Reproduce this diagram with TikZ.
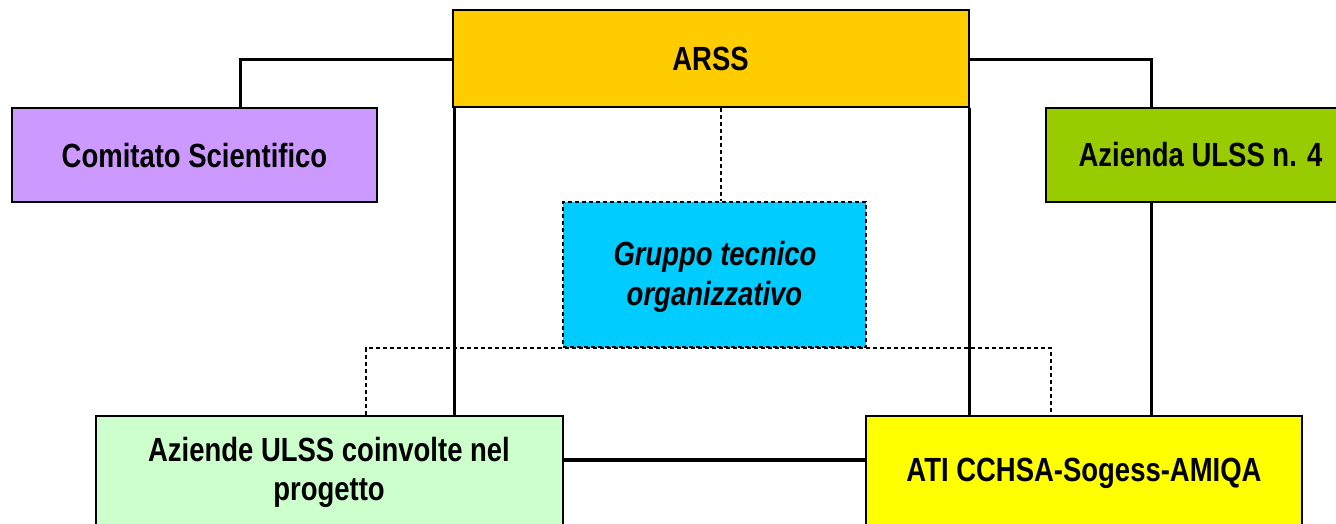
\documentclass[tikz,border=0pt]{standalone}
\usepackage{fontspec}
\setmainfont{Liberation Sans}[FakeStretch=0.82]
\definecolor{arssc}{HTML}{FFCC00}
\definecolor{comc}{HTML}{CC99FF}
\definecolor{azic}{HTML}{99CC00}
\definecolor{grpc}{HTML}{00CCFF}
\definecolor{azsc}{HTML}{CCFFCC}
\definecolor{atic}{HTML}{FFFF00}
\begin{document}
\begin{tikzpicture}[x=1pt,y=-1pt,
  box/.style={draw=black, line width=2.4pt, rectangle, inner sep=0pt},
  dbox/.style={box, line width=2.2pt, dash pattern=on 4pt off 3pt},
  lbl/.style={font=\fontsize{33.5}{38}\selectfont\bfseries, anchor=base, inner sep=0pt},
  ilbl/.style={lbl, font=\fontsize{33.5}{38}\selectfont\bfseries\itshape},
  link/.style={line width=3pt, black},
  dlink/.style={line width=2.3pt, black, dash pattern=on 4pt off 3pt}]
\useasboundingbox (0,0) rectangle (1336,523);
\begin{scope}
\clip (0,0) rectangle (1336,523);
% boxes
\node[box, fill=arssc, minimum width=516pt, minimum height=97pt] (arss) at (711,58.5) {};
\node[box, fill=comc, minimum width=365pt, minimum height=94pt] (com) at (194.5,155) {};
\node[box, fill=azic, minimum width=308pt, minimum height=94pt] (azi4) at (1200,155) {};
\node[dbox, fill=grpc, minimum width=303pt, minimum height=145pt] (grp) at (714.5,274.5) {};
\node[box, fill=azsc, minimum width=467pt, minimum height=124pt] (azs) at (329.5,478) {};
\node[box, fill=atic, minimum width=436pt, minimum height=124pt] (ati) at (1084,478) {};
% helper coordinates
\coordinate (c1) at (240,59);
\coordinate (c2) at (1151,59);
\coordinate (vl) at (454,300);
\coordinate (vr) at (969,300);
\coordinate (dm) at (721,150);
\coordinate (bl) at (366,348);
\coordinate (br) at (1051,348);
\coordinate (hm) at (700,460);
% solid connectors
\draw[link] (com.north -| c1) -- (c1) -- (arss.west |- c1);
\draw[link] (arss.east |- c2) -- (c2) -- (azi4.north -| c2);
\draw[link] (azi4.south -| c2) -- (ati.north -| c2);
\draw[link] (arss.south -| vl) -- (azs.north -| vl);
\draw[link] (arss.south -| vr) -- (ati.north -| vr);
\draw[link, line width=3.6pt] (azs.east |- hm) -- (ati.west |- hm);
% dashed connectors
\draw[dlink] (arss.south -| dm) -- (grp.north -| dm);
\draw[dlink] (azs.north -| bl) -- (bl) -- (br) -- (ati.north -| br);
% texts
\node[lbl] (tarss) at (710.5,70) {ARSS};
\node[lbl] (tcom) at (194.5,167) {Comitato Scientifico};
\node[lbl] (tazi4) at (1200.5,166) {Azienda ULSS n. 4};
\node[ilbl] (tgrp1) at (715,265) {Gruppo tecnico};
\node[ilbl] (tgrp2) at (714.5,305) {organizzativo};
\node[lbl] (tazs1) at (329,461) {Aziende ULSS coinvolte nel};
\node[lbl] (tazs2) at (329,500) {progetto};
\node[lbl] (tati) at (1084,481) {ATI CCHSA-Sogess-AMIQA};
\end{scope}
\end{tikzpicture}
\end{document}
